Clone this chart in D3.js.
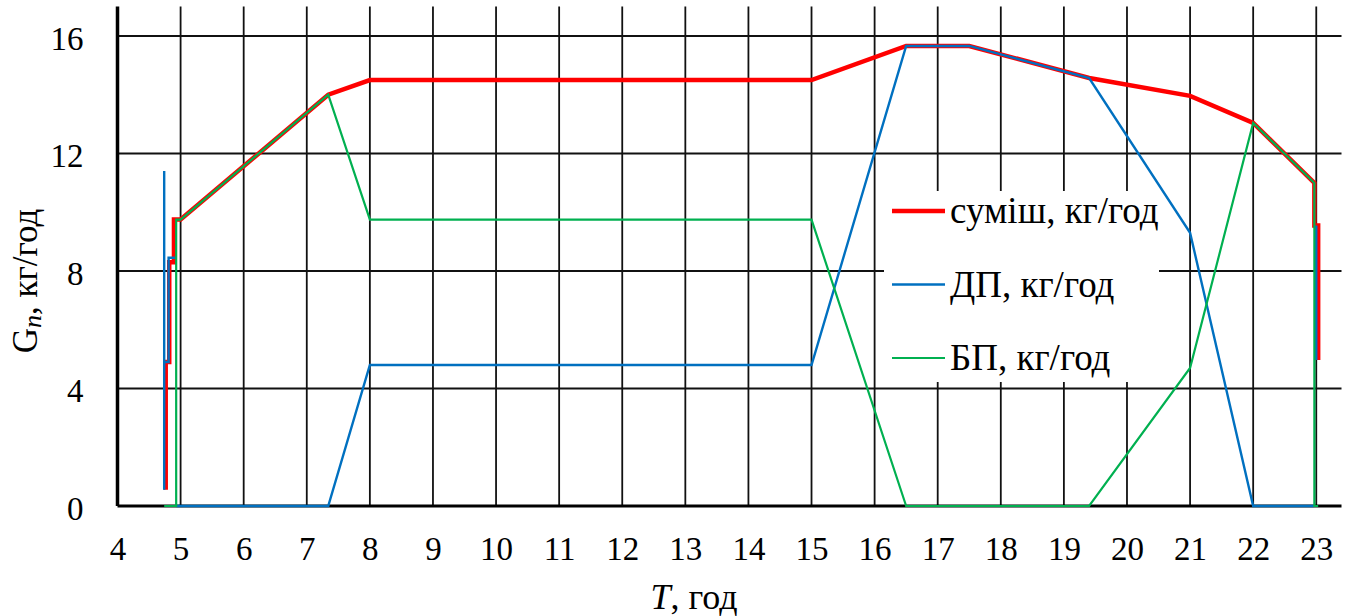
<!DOCTYPE html>
<html>
<head>
<meta charset="utf-8">
<script src="https://cdn.jsdelivr.net/npm/d3@7"></script>
<style>
  html, body { margin: 0; padding: 0; background: #fff; }
  svg { display: block; }
  text { font-family: "Liberation Serif", "Times New Roman", serif; fill: #000; }
</style>
</head>
<body>
<svg id="chart" width="1354" height="616"></svg>
<script>
// Hour ticks along the time axis and flow ticks on the vertical axis
const hourTicks = d3.range(4, 24);
const flowTicks = [0, 4, 8, 12, 16];

// Mixture flow (суміш), kg/h
const mixT = [4.764, 4.764, 4.82, 4.82, 4.895, 4.895, 5.0, 7.34, 8, 15, 16.5, 17.5, 19.4, 21, 22, 22.97, 22.97, 23.03, 23.03];
const mixG = [0.55, 4.9, 4.9, 8.3, 8.3, 9.75, 9.75, 14.0, 14.5, 14.5, 15.66, 15.66, 14.57, 13.96, 13.04, 11.0, 9.55, 9.55, 4.97];

// ДП flow, kg/h (null separates the pieces)
const dpT = [4.74, 4.74, 4.74, 4.81, 4.81, 4.91, null, 4.93, 7.34, 8, 15, 16.5, 17.5, 19.4, 21, 22, 22.97, null, 23.0, 23.0];
const dpG = [0.55, 11.4, 4.9, 4.9, 8.45, 8.45, null, 0, 0, 4.8, 4.8, 15.66, 15.66, 14.57, 9.3, 0, 0, null, 9.55, 4.97];

// БП flow, kg/h
const bpT = [4.74, 4.93, 4.93, 5.0, 7.34, 8, 15, 16.5, 19.4, 21, 22, 22.97, 22.97, 23.03];
const bpG = [0, 0, 9.75, 9.75, 14.0, 9.75, 9.75, 0, 0, 4.7, 13.04, 11.0, 0, 0];

const seriesNames = ["суміш, кг/год", "ДП, кг/год", "БП, кг/год"];
const seriesColors = ["#ff0000", "#0070c0", "#00b050"];
const seriesWidths = [4.5, 2.4, 2.2];

const svg = d3.select("#chart");
const plotLeft = 117.5, plotRight = 1341.5, plotTop = 6.6, plotBottom = 506;

const x = d3.scaleLinear().domain([4, 23.4]).range([plotLeft, plotRight]);
const y = d3.scaleLinear().domain([0, 17]).range([plotBottom, plotTop]);

// Gridlines
const grid = svg.append("g");
grid.selectAll("line.v").data(hourTicks.slice(1)).join("line")
  .attr("class", "v")
  .attr("x1", d => x(d)).attr("x2", d => x(d))
  .attr("y1", y(0)).attr("y2", y(17))
  .attr("stroke", "#111").attr("stroke-width", 1.8);
grid.selectAll("line.h").data(flowTicks.slice(1)).join("line")
  .attr("class", "h")
  .attr("x1", plotLeft).attr("x2", plotRight)
  .attr("y1", d => y(d)).attr("y2", d => y(d))
  .attr("stroke", "#111").attr("stroke-width", 1.8);

// Axes
const xAxis = svg.append("g").attr("transform", `translate(0,${plotBottom})`)
  .call(d3.axisBottom(x).tickValues(hourTicks).tickSize(0).tickPadding(32).tickFormat(d3.format("d")));
xAxis.select(".domain").attr("stroke", "#000").attr("stroke-width", 3).attr("d", `M${plotLeft},0H${plotRight}`);
xAxis.selectAll("text").style("font-size", "33px").attr("dy", "0.68em");

const yAxis = svg.append("g").attr("transform", `translate(${plotLeft},0)`)
  .call(d3.axisLeft(y).tickValues(flowTicks).tickSize(0).tickPadding(34).tickFormat(d3.format("d")));
yAxis.select(".domain").attr("stroke", "#000").attr("stroke-width", 3.5).attr("d", `M0,${y(17)}V${plotBottom}`);
yAxis.selectAll("text").style("font-size", "33px").attr("dy", "0.4em");

// Axis titles
const yTitle = svg.append("text")
  .attr("transform", "translate(37,281) rotate(-90)")
  .attr("text-anchor", "middle")
  .style("font-size", "35px");
yTitle.append("tspan").text("G");
yTitle.append("tspan").text("п").style("font-style", "italic").style("font-size", "26px").attr("dy", "4");
yTitle.append("tspan").text(", кг/год").attr("dy", "-4");

const xTitle = svg.append("text")
  .attr("x", 694).attr("y", 609)
  .attr("text-anchor", "middle")
  .style("font-size", "36px");
xTitle.append("tspan").text("T").style("font-style", "italic");
xTitle.append("tspan").text(", год");

// Data lines, drawn mixture first so the components sit on top
const line = d3.line()
  .defined(d => d[0] !== null && d[1] !== null)
  .x(d => x(d[0])).y(d => y(d[1]));

const series = [
  { t: mixT, g: mixG },
  { t: dpT, g: dpG },
  { t: bpT, g: bpG }
];
series.forEach((s, i) => {
  svg.append("path")
    .datum(s.t.map((t, k) => [t, s.g[k]]))
    .attr("fill", "none")
    .attr("stroke", seriesColors[i])
    .attr("stroke-width", seriesWidths[i])
    .attr("stroke-linejoin", "miter")
    .attr("d", line);
});

// Legend on a white panel inside the plot
const legend = svg.append("g");
legend.append("rect")
  .attr("x", 884).attr("y", 191).attr("width", 275).attr("height", 191)
  .attr("fill", "#fff");
seriesNames.forEach((name, i) => {
  const ly = 211 + i * 73.5;
  legend.append("line")
    .attr("x1", 892).attr("x2", 945).attr("y1", ly).attr("y2", ly)
    .attr("stroke", seriesColors[i]).attr("stroke-width", seriesWidths[i]);
  legend.append("text")
    .attr("x", 950).attr("y", ly + 12)
    .style("font-size", "37px")
    .text(name);
});
</script>
</body>
</html>
